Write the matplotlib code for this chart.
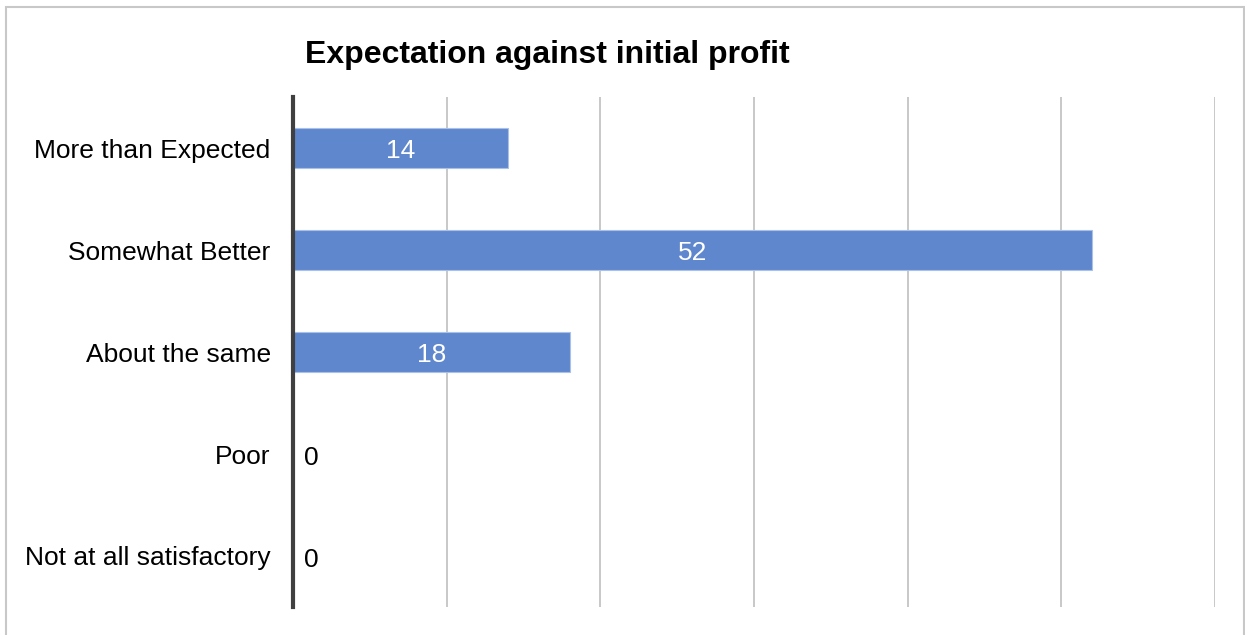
import matplotlib.pyplot as plt
from matplotlib.patches import Rectangle

plt.rcParams['font.family'] = ['Liberation Sans', 'DejaVu Sans']

categories = ['More than Expected', 'Somewhat Better', 'About the same', 'Poor', 'Not at all satisfactory']
counts = [14, 52, 18, 0, 0]
x_ticks = [0, 10, 20, 30, 40, 50, 60]

fig = plt.figure(figsize=(12.45, 6.35), dpi=100)
ax = fig.add_axes([0.2353, 0.0441, 0.9759 - 0.2353, 0.8472 - 0.0441])

ypos = list(range(len(categories)))
bars = ax.barh(ypos, counts, height=0.39, color='#5f87cd', edgecolor='#a9c0e8', linewidth=0.8, zorder=3)
ax.set_ylim(len(categories) - 0.5, -0.5)
ax.set_xlim(0, 60)
ax.set_yticks(ypos)
ax.set_yticklabels(categories, fontsize=19)
ax.tick_params(axis='y', length=0, pad=16)
ax.set_xticks(x_ticks)
ax.tick_params(axis='x', length=0, labelbottom=False)
ax.grid(axis='x', color='#c4c4c4', linewidth=1.3, zorder=0)
for s in ['top', 'right', 'bottom']:
    ax.spines[s].set_visible(False)
ax.spines['left'].set_color('#404040')
ax.spines['left'].set_linewidth(3)
ax.spines['left'].set_zorder(4)

for bar, v in zip(bars, counts):
    yc = bar.get_y() + bar.get_height() / 2
    if v > 0:
        ax.text(v / 2, yc + 0.03, str(v), color='white', fontsize=19, ha='center', va='center', zorder=5)
    else:
        ax.text(0.75, yc + 0.04, str(v), color='black', fontsize=19, ha='left', va='center', zorder=5)

fig.text(547 / 1245, 1 - 55 / 635, 'Expectation against initial profit', fontsize=23,
         fontweight='bold', ha='center', va='center')

# thin frame round the chart area
fig.add_artist(Rectangle((6 / 1245, -0.05), 1238 / 1245, 1 - 7 / 635 + 0.05, transform=fig.transFigure,
                         fill=False, edgecolor='#c8c8c8', linewidth=1.5))

fig.savefig('out.png', dpi=100)
